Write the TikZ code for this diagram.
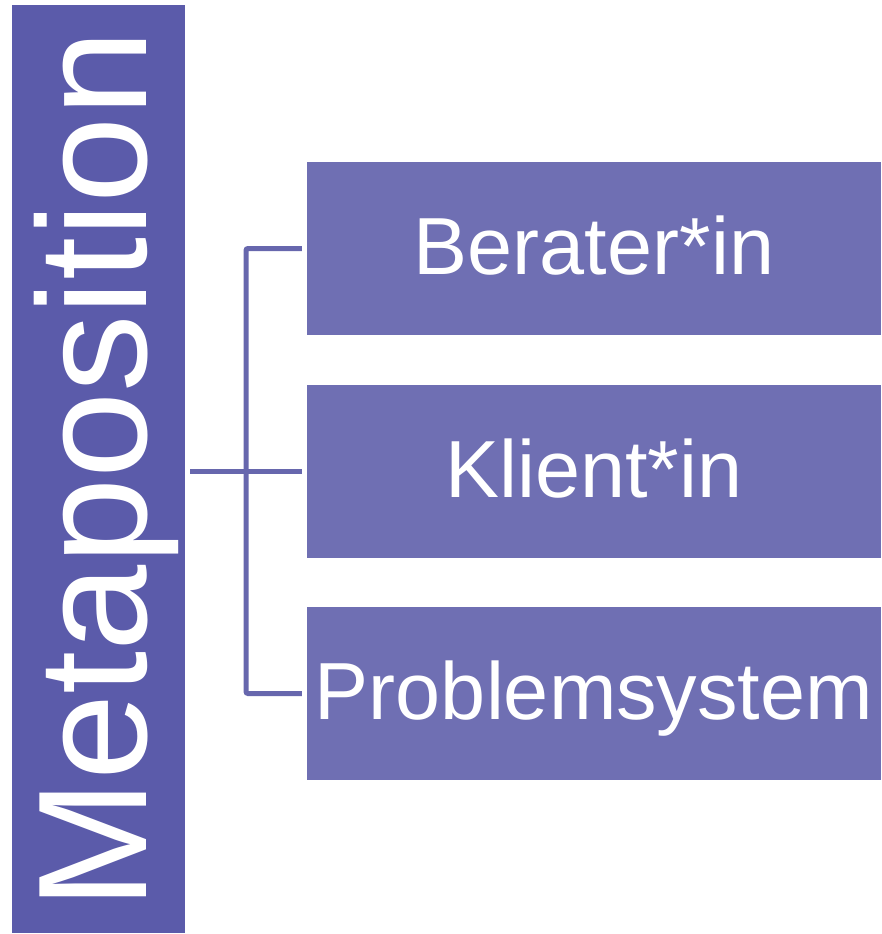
\documentclass[tikz,border=0pt]{standalone}
\usepackage{fontspec}
\setmainfont{Liberation Sans}
\definecolor{metafill}{HTML}{5B5BAA}
\definecolor{boxfill}{HTML}{6F6FB3}
\definecolor{connc}{HTML}{6767AD}
\tikzset{
  itembox/.style={rectangle, fill=boxfill, draw=none, inner sep=0pt,
    minimum width=574pt, minimum height=173pt, text=white,
    font=\fontsize{81}{81}\selectfont, text height=58pt, text depth=6pt},
  conn/.style={draw=connc, line width=5pt, rounded corners=2pt}
}
\begin{document}
\begin{tikzpicture}[x=1pt,y=-1pt]
\useasboundingbox (0,0) rectangle (881,934);
% left box
\node[rectangle, fill=metafill, draw=none, inner sep=0pt, anchor=north west,
  minimum width=173pt, minimum height=928pt] (meta) at (12,5) {};
\node[rotate=90, anchor=base, inner sep=0pt, text=white,
  font=\fontsize{155}{155}\selectfont] (metatext) at (146,470) {Metaposition};
% right boxes
\node[itembox] (b1) at (594,248.5) {Berater*in};
\node[itembox] (b2) at (594,471) {Klient*in};
\node[itembox] (b3) at (594,693.5) {Problemsystem};
% connectors
\coordinate (j) at (246,471);
\draw[conn] ([xshift=5pt]meta.east |- b2.west) -- ([xshift=-5pt]b2.west);
\draw[conn] ([xshift=-5pt]b1.west) -- (j |- b1.west) -- (j |- b3.west) -- ([xshift=-5pt]b3.west);
\end{tikzpicture}
\end{document}
